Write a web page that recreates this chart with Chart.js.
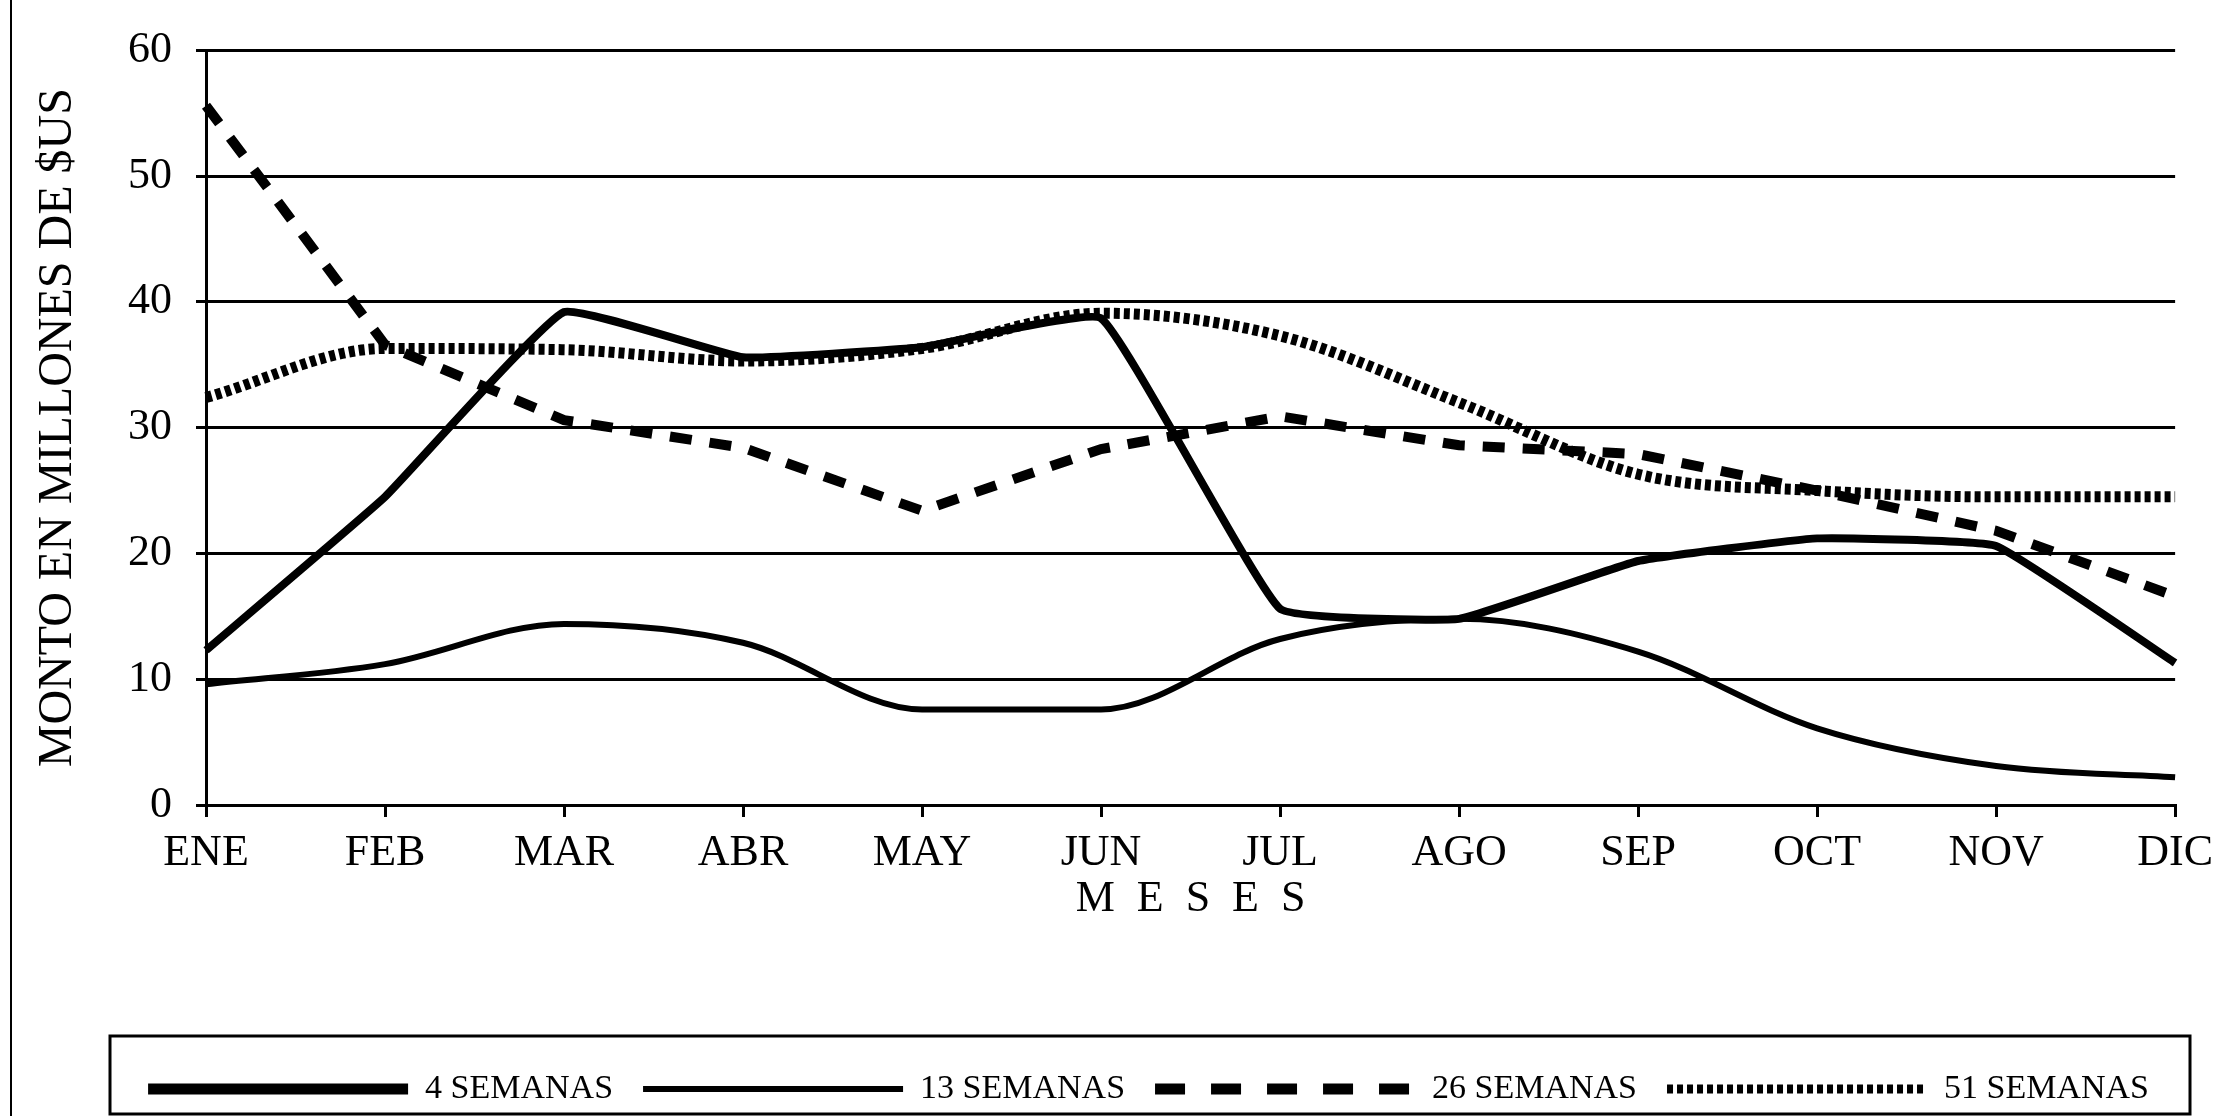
<!DOCTYPE html>
<html>
<head>
<meta charset="utf-8">
<script src="https://cdn.jsdelivr.net/npm/chart.js@4.4.1/dist/chart.umd.min.js"></script>
<style>
    html, body { margin: 0; padding: 0; background: #fff; }
    #wrap { position: relative; width: 2223px; height: 1116px; }
    #marco { position: absolute; left: 10px; top: 0; width: 2px; height: 1116px; background: #000; }
</style>
</head>
<body>
<div id="wrap">
    <div id="marco"></div>
    <canvas id="chartMontos" width="2223" height="1116"></canvas>
</div>
<script>
const meses = ['ENE', 'FEB', 'MAR', 'ABR', 'MAY', 'JUN', 'JUL', 'AGO', 'SEP', 'OCT', 'NOV', 'DIC'];
const ticksY = [0, 10, 20, 30, 40, 50, 60];

const semanas4 = [12.3, 24.5, 39.2, 35.6, 36.4, 38.7, 15.6, 14.8, 19.4, 21.2, 20.6, 11.3];
const semanas13 = [9.6, 11.2, 14.4, 12.9, 7.6, 7.6, 13.2, 14.8, 12.2, 6.1, 3.1, 2.2];
const semanas26 = [55.6, 36.6, 30.6, 28.4, 23.4, 28.3, 30.9, 28.6, 27.9, 25.0, 21.8, 16.6];
const semanas51 = [32.4, 36.3, 36.2, 35.3, 36.3, 39.1, 37.3, 32.0, 26.3, 25.0, 24.5, 24.5];

const fuente = 'Liberation Serif';

// grosor y trazo de las muestras de la leyenda
const grosorLeyenda = [11, 6, 11, 9];
const trazoLeyenda = [[], [], [30, 26], [6, 4]];

// marco del recuadro de la leyenda
const marcoLeyenda = {
    id: 'marcoLeyenda',
    afterDraw(chart) {
        const lg = chart.legend;
        const ctx = chart.ctx;
        ctx.save();
        ctx.strokeStyle = '#000';
        ctx.lineWidth = 3;
        ctx.strokeRect(110, lg.top - 6, 2080, 1114 - (lg.top - 6));
        ctx.restore();
    }
};

new Chart(document.getElementById('chartMontos').getContext('2d'), {
    type: 'line',
    data: {
        labels: meses,
        datasets: [
            {
                label: '4 SEMANAS',
                data: semanas4,
                borderColor: '#000',
                backgroundColor: '#000',
                borderWidth: 8,
                tension: 0.1,
                pointRadius: 0,
                pointStyle: 'line'
            },
            {
                label: '13 SEMANAS',
                data: semanas13,
                borderColor: '#000',
                backgroundColor: '#000',
                borderWidth: 6,
                cubicInterpolationMode: 'monotone',
                pointRadius: 0,
                pointStyle: 'line'
            },
            {
                label: '26 SEMANAS',
                data: semanas26,
                borderColor: '#000',
                backgroundColor: '#000',
                borderWidth: 10,
                borderDash: [22, 18],
                tension: 0,
                pointRadius: 0,
                pointStyle: 'line'
            },
            {
                label: '51 SEMANAS',
                data: semanas51,
                borderColor: '#000',
                backgroundColor: '#000',
                borderWidth: 11,
                borderDash: [6, 4],
                cubicInterpolationMode: 'monotone',
                pointRadius: 0,
                pointStyle: 'line'
            }
        ]
    },
    options: {
        responsive: false,
        animation: false,
        layout: { padding: { left: 14, right: 44, top: 30, bottom: 0 } },
        scales: {
            x: {
                offset: false,
                grid: { display: true, drawOnChartArea: false, drawTicks: true, tickLength: 12, color: '#000', lineWidth: 3 },
                border: { display: true, color: '#000', width: 3 },
                ticks: { color: '#000', padding: 10, font: { family: fuente, size: 44 }, maxRotation: 0, autoSkip: false },
                title: {
                    display: true,
                    text: 'M  E  S  E  S',
                    color: '#000',
                    font: { family: fuente, size: 44 },
                    padding: { top: 0, bottom: 116 }
                },
                afterFit: s => { s.height = 237; }
            },
            y: {
                min: 0,
                max: 60,
                afterBuildTicks: s => { s.ticks = ticksY.map(v => ({ value: v })); },
                grid: { color: '#000', lineWidth: 3, drawTicks: true, tickLength: 10 },
                border: { display: true, color: '#000', width: 3 },
                ticks: { color: '#000', padding: 24, font: { family: fuente, size: 44 } },
                title: {
                    display: true,
                    text: 'MONTO EN MILLONES DE $US',
                    color: '#000',
                    font: { family: fuente, size: 48 },
                    padding: { top: 16, bottom: 0 }
                },
                afterFit: s => { s.width = 192; }
            }
        },
        plugins: {
            legend: {
                position: 'bottom',
                align: 'end',
                labels: {
                    color: '#000',
                    font: { family: fuente, size: 34 },
                    usePointStyle: true,
                    pointStyleWidth: 260,
                    padding: 30,
                    generateLabels: chart =>
                        Chart.defaults.plugins.legend.labels.generateLabels(chart).map((item, i) => ({
                            ...item,
                            lineWidth: grosorLeyenda[i],
                            lineDash: trazoLeyenda[i]
                        }))
                }
            },
            tooltip: { enabled: false }
        }
    },
    plugins: [marcoLeyenda]
});
</script>
</body>
</html>
